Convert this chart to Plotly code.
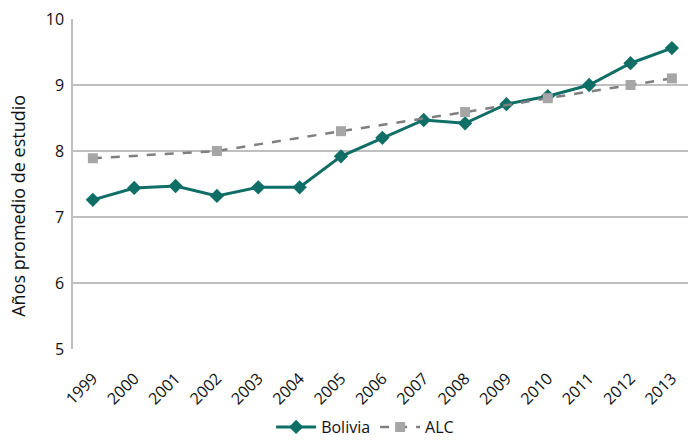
import plotly.graph_objects as go

years = [str(y) for y in range(1999, 2014)]
bolivia = [7.26, 7.44, 7.47, 7.32, 7.45, 7.45, 7.92, 8.20, 8.47, 8.42, 8.71, 8.83, 9.00, 9.33, 9.56]
alc = [7.89, None, None, 8.00, None, None, 8.30, None, None, 8.59, None, 8.80, None, 9.00, 9.10]
y_ticks = [5, 6, 7, 8, 9, 10]
y_title = "Años promedio de estudio"

teal = "#0f6e66"
font_family = "Open Sans, sans-serif"

fig = go.Figure()
fig.add_trace(go.Scatter(
    x=years, y=bolivia, name="Bolivia", mode="lines+markers",
    line=dict(color=teal, width=3),
    marker=dict(symbol="diamond", size=11, color=teal),
))
fig.add_trace(go.Scatter(
    x=years, y=alc, name="ALC", mode="lines+markers", connectgaps=True,
    line=dict(color="#7f7f7f", width=2.5, dash="dash"),
    marker=dict(symbol="square", size=10, color="#a6a6a6"),
))

fig.add_annotation(
    text=y_title, xref="paper", yref="paper", x=-0.09, y=0.433,
    xanchor="center", yanchor="middle", textangle=-90, showarrow=False,
    font=dict(size=18, color="#111"),
)

fig.update_layout(
    width=688, height=445,
    margin=dict(l=73, r=0, t=19, b=96, autoexpand=False),
    paper_bgcolor="white", plot_bgcolor="white",
    font=dict(family=font_family, size=15, color="#111"),
    showlegend=True,
    legend=dict(orientation="h", x=0.475, xanchor="center", y=-0.288, yanchor="bottom",
                font=dict(size=16), itemwidth=40),
    xaxis=dict(
        type="category", range=[-0.48, 14.39], automargin=False,
        tickangle=-45, showgrid=False, showline=False, ticks="",
        tickfont=dict(size=16), ticklabelstandoff=16,
    ),
    yaxis=dict(
        range=[5, 10], tickvals=y_ticks, showgrid=True, gridcolor="#bfbfbf", gridwidth=1.5,
        showline=True, linecolor="#bfbfbf", linewidth=1.5, zeroline=False, automargin=False,
        ticks="", tickfont=dict(size=16), ticklabelstandoff=4,
    ),
)

fig.write_html("out.html", post_script="document.body.style.margin='0';",
               config={"displayModeBar": False})
